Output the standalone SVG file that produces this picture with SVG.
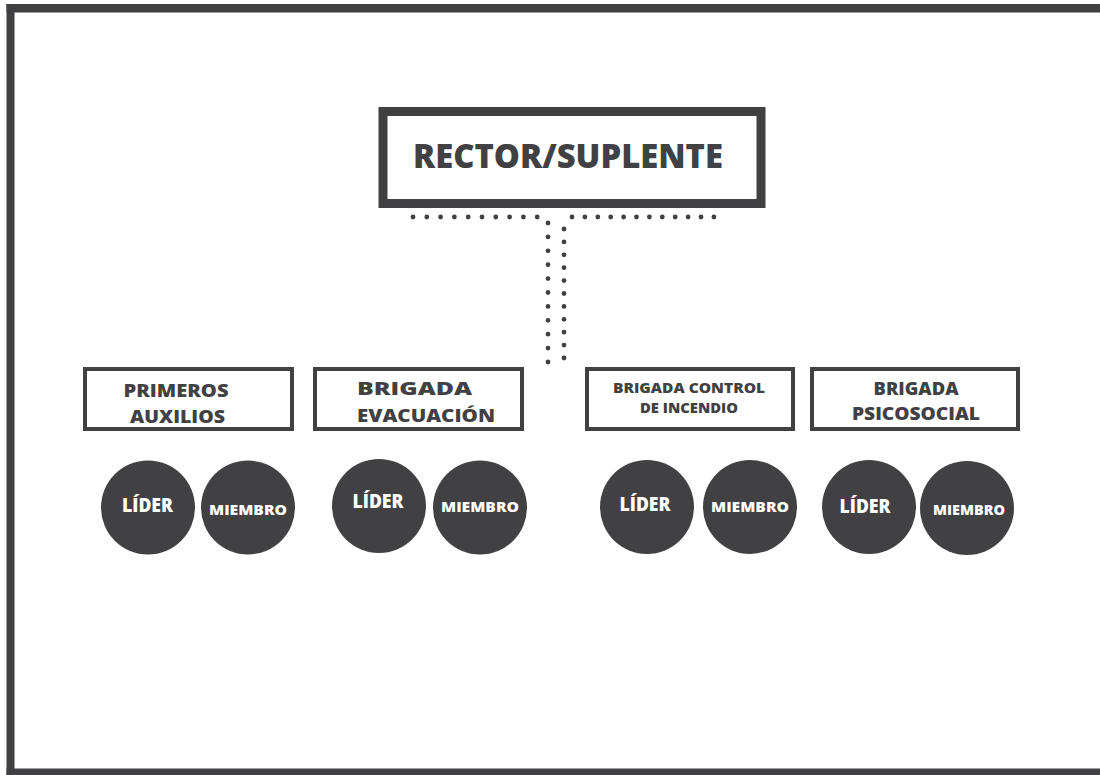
<svg xmlns="http://www.w3.org/2000/svg" width="1100" height="775" viewBox="0 0 1100 775">
<style>
.frame{fill:#414042}
.box{fill:#fff;stroke:#414042}
.t{font-family:"Open Sans",Lato,"Liberation Sans",sans-serif;font-weight:800;fill:#414042;text-anchor:middle}
.c{fill:#414042}
.ct{font-family:"Open Sans",Lato,"Liberation Sans",sans-serif;font-weight:800;fill:#fff;text-anchor:middle}
.dots{fill:none;stroke:#414042;stroke-width:4.8;stroke-linecap:round}
</style>
<rect width="1100" height="775" fill="#fff"/>
<g id="frame">
<rect class="frame" x="6.5" y="4" width="8" height="771"/>
<rect class="frame" x="6.5" y="4" width="1094" height="8.5"/>
<rect class="frame" x="6.5" y="768.5" width="1094" height="7"/>
</g>
<g id="connectors">
<path class="dots" stroke-dasharray="0 13.8" d="M413,217 H538"/>
<path class="dots" stroke-dasharray="0 12.9" d="M572,217 H714"/>
<path class="dots" stroke-dasharray="0 13.9" d="M548,223 V362"/>
<path class="dots" stroke-dasharray="0 12.9" d="M564,229 V359"/>
</g>
<g id="rector">
<rect class="box" x="383" y="111.5" width="378" height="92" stroke-width="9"/>
<text class="t" x="568" y="168" font-size="34" textLength="310" lengthAdjust="spacingAndGlyphs">RECTOR/SUPLENTE</text>
</g>
<g id="primeros-auxilios">
<rect class="box" x="85" y="369" width="207" height="60" stroke-width="4"/>
<text class="t" x="176" y="397" font-size="18" textLength="105" lengthAdjust="spacingAndGlyphs">PRIMEROS</text>
<text class="t" x="177.5" y="423" font-size="18" textLength="95" lengthAdjust="spacingAndGlyphs">AUXILIOS</text>
</g>
<g id="brigada-evacuacion">
<rect class="box" x="315" y="369" width="207" height="60" stroke-width="4"/>
<text class="t" x="414.5" y="395" font-size="18" textLength="115" lengthAdjust="spacingAndGlyphs">BRIGADA</text>
<text class="t" x="426" y="422" font-size="18" textLength="138" lengthAdjust="spacingAndGlyphs">EVACUACIÓN</text>
</g>
<g id="brigada-control-incendio">
<rect class="box" x="587" y="369" width="206" height="60" stroke-width="4"/>
<text class="t" x="689" y="393" font-size="14" textLength="152" lengthAdjust="spacingAndGlyphs">BRIGADA CONTROL</text>
<text class="t" x="689" y="413" font-size="14" textLength="98" lengthAdjust="spacingAndGlyphs">DE INCENDIO</text>
</g>
<g id="brigada-psicosocial">
<rect class="box" x="812" y="369" width="206" height="60" stroke-width="4"/>
<text class="t" x="916" y="395" font-size="18" textLength="85" lengthAdjust="spacingAndGlyphs">BRIGADA</text>
<text class="t" x="916" y="420" font-size="18" textLength="128" lengthAdjust="spacingAndGlyphs">PSICOSOCIAL</text>
</g>
<g id="lider-1"><circle class="c" cx="148" cy="507.5" r="47"/><text class="ct" x="147.5" y="512" font-size="20" textLength="51" lengthAdjust="spacingAndGlyphs">LÍDER</text></g>
<g id="miembro-1"><circle class="c" cx="248" cy="507.5" r="47"/><text class="ct" x="248" y="515" font-size="14.5" textLength="78" lengthAdjust="spacingAndGlyphs">MIEMBRO</text></g>
<g id="lider-2"><circle class="c" cx="379" cy="506" r="47"/><text class="ct" x="378" y="508" font-size="20" textLength="51" lengthAdjust="spacingAndGlyphs">LÍDER</text></g>
<g id="miembro-2"><circle class="c" cx="480" cy="507.5" r="47"/><text class="ct" x="480" y="512" font-size="14.5" textLength="78" lengthAdjust="spacingAndGlyphs">MIEMBRO</text></g>
<g id="lider-3"><circle class="c" cx="647" cy="507" r="47"/><text class="ct" x="645" y="511" font-size="20" textLength="51" lengthAdjust="spacingAndGlyphs">LÍDER</text></g>
<g id="miembro-3"><circle class="c" cx="750" cy="507" r="47"/><text class="ct" x="750" y="512" font-size="14.5" textLength="78" lengthAdjust="spacingAndGlyphs">MIEMBRO</text></g>
<g id="lider-4"><circle class="c" cx="869" cy="507" r="47"/><text class="ct" x="865" y="513" font-size="20" textLength="51" lengthAdjust="spacingAndGlyphs">LÍDER</text></g>
<g id="miembro-4"><circle class="c" cx="967" cy="508" r="47"/><text class="ct" x="969" y="515" font-size="14.5" textLength="72" lengthAdjust="spacingAndGlyphs">MIEMBRO</text></g>
</svg>
